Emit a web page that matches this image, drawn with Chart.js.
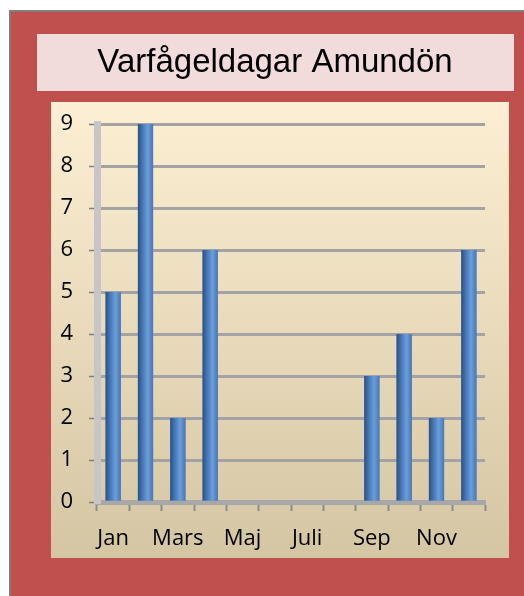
<!DOCTYPE html>
<html>
<head>
<meta charset="utf-8">
<script src="https://cdn.jsdelivr.net/npm/chart.js@4/dist/chart.umd.min.js"></script>
<style>
  html, body { margin: 0; padding: 0; background: #fff; }
  #wrap { width: 524px; height: 596px; }
</style>
</head>
<body>
<div id="wrap"><canvas id="chart" width="524" height="596"></canvas></div>
<script>
const titleText = 'Varfågeldagar Amundön';
const months = ['Jan', 'Feb', 'Mars', 'April', 'Maj', 'Juni', 'Juli', 'Aug', 'Sep', 'Okt', 'Nov', 'Dec'];
const days = [5, 9, 2, 6, 0, 0, 0, 0, 3, 4, 2, 6];
const yTicks = [0, 1, 2, 3, 4, 5, 6, 7, 8, 9];

// frame, title box and plot background
const frame = {
    id: 'frame',
    beforeDraw(chart){
        const ctx = chart.ctx;
        ctx.save();
        ctx.fillStyle = '#7f7f7f';
        ctx.fillRect(9, 10, 515, 586);
        ctx.fillStyle = '#c0504d';
        ctx.fillRect(11, 12, 513, 584);
        ctx.fillStyle = '#f2dbdb';
        ctx.fillRect(37, 34, 477, 57);
        const g = ctx.createLinearGradient(0, 102, 0, 558);
        g.addColorStop(0, '#fdefd3');
        g.addColorStop(1, '#d4c5a3');
        ctx.fillStyle = g;
        ctx.fillRect(51, 102, 458, 456);
        ctx.fillStyle = '#000';
        ctx.font = '33px "Liberation Sans", Arial, sans-serif';
        ctx.textAlign = 'center';
        ctx.textBaseline = 'middle';
        ctx.fillText(titleText, 275, 63);
        ctx.restore();
    }
};

// cylinder shading on the bars the library placed
const shade = {
    id: 'shade',
    afterDatasetsDraw(chart){
        const ctx = chart.ctx;
        chart.getDatasetMeta(0).data.forEach(bar => {
            const p = bar.getProps(['x', 'y', 'base', 'width'], true);
            if (p.base - p.y < 0.5) return;
            const l = p.x - p.width / 2;
            const g = ctx.createLinearGradient(l, 0, l + p.width, 0);
            g.addColorStop(0, '#2c5080');
            g.addColorStop(0.3, '#4677b5');
            g.addColorStop(0.65, '#6b9edb');
            g.addColorStop(1, '#4877b4');
            ctx.fillStyle = g;
            ctx.fillRect(l, p.y, p.width, p.base - p.y);
        });
    }
};

const ctx = document.getElementById('chart').getContext('2d');
const chart = new Chart(ctx, {
    type: 'bar',
    data: {
        labels: months,
        datasets: [{
            label: titleText,
            data: days,
            backgroundColor: '#4f81bd',
            barPercentage: 1,
            categoryPercentage: 0.47
        }]
    },
    options: {
        responsive: false,
        animation: false,
        layout: { padding: { top: 124, left: 51, right: 39, bottom: 38 } },
        plugins: {
            legend: { display: false },
            title: { display: false },
            tooltip: { enabled: false }
        },
        scales: {
            x: {
                afterFit: s => { s.height = 56; },
                grid: {
                    drawOnChartArea: false,
                    drawTicks: true,
                    tickLength: 9,
                    tickWidth: 2,
                    tickColor: '#8c8c8c'
                },
                border: { display: true, color: '#a8a8a8', width: 5 },
                ticks: {
                    autoSkip: false,
                    maxRotation: 0,
                    padding: 15,
                    color: '#000',
                    font: { family: '"Open Sans", Lato, sans-serif', size: 22 },
                    callback: (v, i) => i % 2 === 0 ? months[i] : ''
                }
            },
            y: {
                min: 0,
                max: 9,
                afterFit: s => { s.width = 46; },
                afterBuildTicks: s => { s.ticks = yTicks.map(v => ({ value: v })); },
                grid: {
                    color: '#a3a3a3',
                    lineWidth: 3,
                    drawTicks: true,
                    tickLength: 8,
                    tickWidth: 1.5,
                    tickColor: '#7f7f7f'
                },
                border: { display: true, color: '#c6c6c6', width: 7 },
                ticks: {
                    padding: 16,
                    color: '#000',
                    font: { family: '"Open Sans", Lato, sans-serif', size: 22 }
                }
            }
        }
    },
    plugins: [frame, shade]
});
</script>
</body>
</html>
